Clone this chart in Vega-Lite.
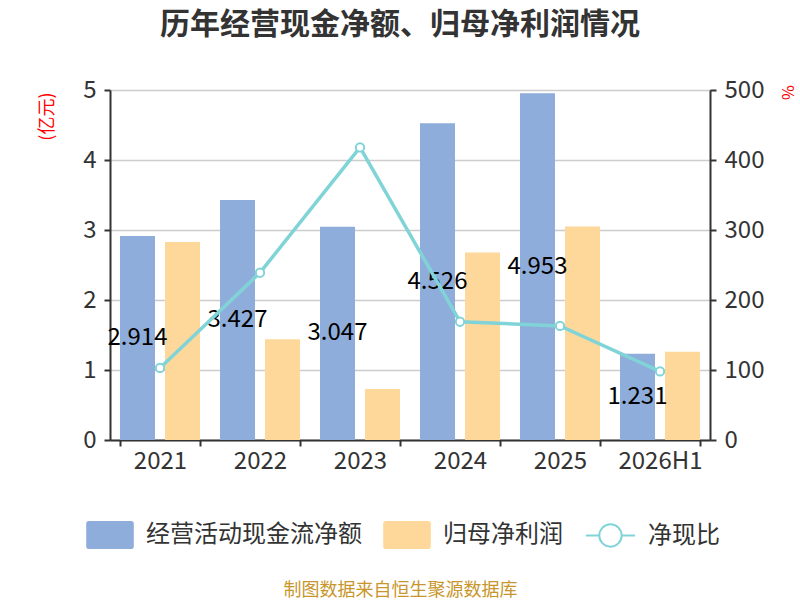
{
  "$schema": "https://vega.github.io/schema/vega-lite/v6.json",
  "width": 600,
  "height": 350,
  "autosize": {"type": "none"},
  "padding": {"left": 110, "top": 90, "right": 90, "bottom": 160},
  "background": "white",
  "config": {
    "font": "Noto Sans CJK SC",
    "view": {"stroke": null},
    "axis": {"labelFont": "Noto Sans CJK SC", "titleFont": "Noto Sans CJK SC"},
    "legend": {"labelFont": "Noto Sans CJK SC"}
  },
  "title": {
    "text": "历年经营现金净额、归母净利润情况",
    "fontSize": 30,
    "fontWeight": "bold",
    "color": "#333333",
    "anchor": "middle",
    "dx": -10,
    "offset": 38
  },
  "datasets": {
    "bars": [
      {"year": "2021", "series": "经营活动现金流净额", "value": 2.914},
      {"year": "2021", "series": "归母净利润", "value": 2.83},
      {"year": "2022", "series": "经营活动现金流净额", "value": 3.427},
      {"year": "2022", "series": "归母净利润", "value": 1.44},
      {"year": "2023", "series": "经营活动现金流净额", "value": 3.047},
      {"year": "2023", "series": "归母净利润", "value": 0.73},
      {"year": "2024", "series": "经营活动现金流净额", "value": 4.526},
      {"year": "2024", "series": "归母净利润", "value": 2.68},
      {"year": "2025", "series": "经营活动现金流净额", "value": 4.953},
      {"year": "2025", "series": "归母净利润", "value": 3.05},
      {"year": "2026H1", "series": "经营活动现金流净额", "value": 1.231},
      {"year": "2026H1", "series": "归母净利润", "value": 1.26}
    ],
    "ratio": [
      {"year": "2021", "name": "净现比", "ratio": 103},
      {"year": "2022", "name": "净现比", "ratio": 239},
      {"year": "2023", "name": "净现比", "ratio": 418},
      {"year": "2024", "name": "净现比", "ratio": 169},
      {"year": "2025", "name": "净现比", "ratio": 163},
      {"year": "2026H1", "name": "净现比", "ratio": 98}
    ]
  },
  "encoding": {
    "x": {
      "field": "year",
      "type": "nominal",
      "sort": null,
      "scale": {"paddingInner": 0.2, "paddingOuter": 0.1},
      "axis": {
        "title": "制图数据来自恒生聚源数据库",
        "titleColor": "#c8962c",
        "titleFontSize": 18,
        "titleFontWeight": "normal",
        "titleX": 290,
        "titleY": 150,
        "titleBaseline": "middle",
        "titleAlign": "center",
        "labelAngle": 0,
        "labelFontSize": 24,
        "labelColor": "#333333",
        "labelPadding": 3,
        "domainColor": "#333333",
        "domainWidth": 2,
        "tickColor": "#333333",
        "tickWidth": 2,
        "tickSize": 6,
        "tickBand": "extent"
      }
    }
  },
  "layer": [
    {
      "data": {"name": "bars"},
      "mark": {"type": "bar"},
      "encoding": {
        "xOffset": {
          "field": "series",
          "type": "nominal",
          "scale": {"domain": ["经营活动现金流净额", "归母净利润"], "paddingInner": 0.222, "paddingOuter": 0}
        },
        "y": {
          "field": "value",
          "type": "quantitative",
          "scale": {"domain": [0, 5]},
          "axis": {
            "orient": "left",
            "values": [0, 1, 2, 3, 4, 5],
            "title": "(亿元)",
            "titleColor": "#ff0000",
            "titleFontSize": 18,
            "titleFontWeight": "normal",
            "titleAngle": -90,
            "titleAlign": "right",
            "titleBaseline": "middle",
            "titleX": -63,
            "titleY": 2,
            "labelFontSize": 24,
            "labelColor": "#333333",
            "labelPadding": 8,
            "domainColor": "#333333",
            "domainWidth": 2,
            "tickColor": "#333333",
            "tickWidth": 2,
            "tickSize": 6,
            "grid": true,
            "gridColor": "#cccccc",
            "gridWidth": 1.5
          }
        },
        "color": {
          "field": "series",
          "type": "nominal",
          "scale": {"domain": ["经营活动现金流净额", "归母净利润"], "range": ["#8eadda", "#fed89a"]},
          "legend": {
            "orient": "none",
            "legendX": -14,
            "legendY": 431,
            "direction": "horizontal",
            "columns": 2,
            "columnPadding": 21,
            "title": null,
            "symbolType": "M-1.5,-1 H1.5 Q1.7,-1 1.7,-0.8 V0.8 Q1.7,1 1.5,1 H-1.5 Q-1.7,1 -1.7,0.8 V-0.8 Q-1.7,-1 -1.5,-1 Z",
            "symbolSize": 784,
            "symbolStrokeWidth": 0,
            "labelFontSize": 24,
            "labelColor": "#333333",
            "labelOffset": 22,
            "labelLimit": 400
          }
        }
      }
    },
    {
      "data": {"name": "bars"},
      "transform": [{"filter": "datum.series === '经营活动现金流净额'"}],
      "mark": {"type": "text", "color": "#000000", "fontSize": 24, "baseline": "middle", "align": "center"},
      "encoding": {
        "xOffset": {
          "field": "series",
          "type": "nominal",
          "scale": {"domain": ["经营活动现金流净额", "归母净利润"], "paddingInner": 0.222, "paddingOuter": 0}
        },
        "y": {
          "field": "value",
          "type": "quantitative",
          "scale": {"domain": [0, 10]},
          "axis": null
        },
        "text": {"field": "value", "type": "quantitative", "format": ".3f"}
      }
    },
    {
      "data": {"name": "ratio"},
      "mark": {
        "type": "line",
        "strokeWidth": 3.5,
        "point": {"filled": false, "fill": "white", "size": 70, "strokeWidth": 2}
      },
      "encoding": {
        "y": {
          "field": "ratio",
          "type": "quantitative",
          "scale": {"domain": [0, 500]},
          "axis": {
            "orient": "right",
            "values": [0, 100, 200, 300, 400, 500],
            "title": "%",
            "titleColor": "#ff0000",
            "titleFontSize": 16,
            "titleFontWeight": "normal",
            "titleAngle": 90,
            "titleAlign": "center",
            "titleBaseline": "middle",
            "titleX": 76,
            "titleY": 2,
            "labelFontSize": 24,
            "labelColor": "#333333",
            "labelPadding": 8,
            "domainColor": "#333333",
            "domainWidth": 2,
            "tickColor": "#333333",
            "tickWidth": 2,
            "tickSize": 6,
            "grid": false
          }
        },
        "stroke": {
          "field": "name",
          "type": "nominal",
          "scale": {"domain": ["净现比"], "range": ["#80d4d7"]},
          "legend": {
            "orient": "none",
            "legendX": 488,
            "legendY": 433,
            "title": null,
            "symbolType": "M-2.2,0 H-1 M1,0 H2.2 M1,0 A1,1 0 1,1 -1,0 A1,1 0 1,1 1,0",
            "symbolSize": 500,
            "symbolStrokeWidth": 2,
            "symbolFillColor": "white",
            "labelFontSize": 24,
            "labelColor": "#333333",
            "labelOffset": 25
          }
        }
      }
    }
  ],
  "resolve": {"scale": {"y": "independent"}}
}
